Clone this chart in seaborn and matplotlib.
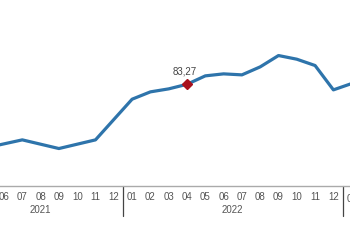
import matplotlib
matplotlib.use("Agg")
import matplotlib.pyplot as plt
import seaborn as sns
import pandas as pd
from matplotlib.lines import Line2D

# Data (month index series, starting 04/2021)
years = [2021]*9 + [2022]*12 + [2023]
months = ["04", "05", "06", "07", "08", "09", "10", "11", "12",
          "01", "02", "03", "04", "05", "06", "07", "08", "09", "10", "11", "12",
          "01"]
values = [63.8, 64.2, 65.4, 66.6, 65.3, 64.0, 65.3, 66.6, 72.7,
          78.8, 81.0, 81.9, 83.27, 85.8, 86.4, 86.1, 88.5, 91.9, 90.8, 88.9, 81.6,
          83.5]
year_labels = ["2021", "2022"]
highlight_label = "83,27"
highlight_year, highlight_month = 2022, "04"

df = pd.DataFrame({"idx": range(len(values)), "value": values,
                   "year": years, "month": months})

sns.set_style("white")
plt.rcParams["font.family"] = ["Liberation Sans", "DejaVu Sans"]

fig = plt.figure(figsize=(3.5, 2.5), dpi=100)
ax = fig.add_axes([0, (250 - 186) / 250, 1, 186 / 250])

sns.lineplot(data=df, x="idx", y="value", ax=ax, color="#2e74ab",
             linewidth=2.3, legend=False)

hi = df[(df.year == highlight_year) & (df.month == highlight_month)].iloc[0]
ax.plot([hi.idx], [hi.value], marker="D", color="#a8121e", markersize=5.5,
        linestyle="none", zorder=5)
ax.annotate(highlight_label, (hi.idx, hi.value), xytext=(-2, 5.5),
            textcoords="offset points", ha="center", va="bottom",
            fontsize=7, color="#444444")

ax.set_xticks(df.idx)
ax.set_xticklabels(df.month, fontsize=7, color="#555555")
ax.set_xticks([i + 0.5 for i in range(-1, len(values))], minor=True)
ax.tick_params(axis="x", which="major", length=0, pad=4)
ax.tick_params(axis="x", which="minor", length=10.5, width=0.8, color="#666666")
ax.set_yticks([])
ax.set_xlabel("")
ax.set_ylabel("")

# x scale: month spacing ~18.3px, 06/2021 at x=4px
sp = 18.3
i06 = 2
xmax = i06 + 346 / sp
ax.set_xlim(i06 - 4 / sp, xmax)
ax.set_ylim(83.27 - (186 - 84.3) * 0.3, 83.27 + 84.3 * 0.3)

for s in ["top", "left", "right"]:
    ax.spines[s].set_visible(False)
ax.spines["bottom"].set_color("#aaaaaa")
ax.spines["bottom"].set_linewidth(1)

trans = ax.get_xaxis_transform()
# month labels just past the right edge (partly visible)
for _, r in df[df.idx > xmax].iterrows():
    ax.text(r.idx, -(4 + 4 / 0.72 * 0.72) / 186, r.month, transform=trans,
            ha="center", va="top", fontsize=7, color="#555555", clip_on=False)

for y in sorted(set(years)):
    idxs = df.idx[df.year == y]
    if str(y) in year_labels:
        ax.text((idxs.min() + idxs.max()) / 2, -24 / 186, str(y), transform=trans,
                ha="center", va="center", fontsize=7, color="#555555",
                clip_on=False)
    if y != years[0]:
        xb = idxs.min() - 0.5
        ax.add_line(Line2D([xb, xb], [0, -30 / 186], transform=trans,
                           color="#444444", linewidth=0.9, clip_on=False))

fig.savefig("out.png", dpi=100)
